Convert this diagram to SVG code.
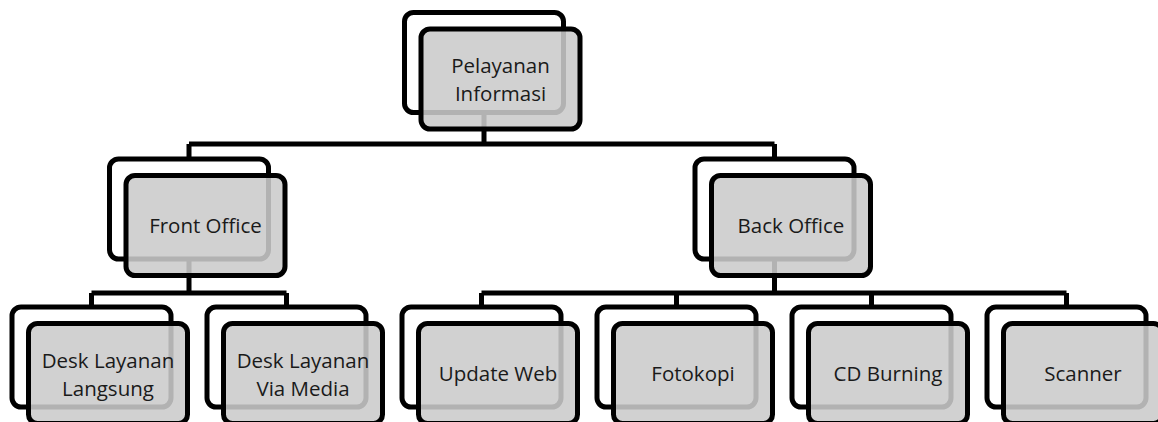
<svg xmlns="http://www.w3.org/2000/svg" width="1158" height="422" viewBox="0 0 1158 422">
  <style>
    .back { fill: #ffffff; stroke: #000000; stroke-width: 5; }
    .front { fill: #cbcbcb; fill-opacity: 0.88; stroke: #000000; stroke-width: 5; }
    .conn { fill: none; stroke: #000000; stroke-width: 5; }
    .lbl { font-family: "Open Sans", "Noto Sans", "Liberation Sans", sans-serif; font-size: 20.5px; text-anchor: middle; fill: #1a1a1a; }
  </style>
  <defs>
    <!-- shared card shapes: a white card behind, a grey card offset in front -->
    <rect id="card-back" class="back" x="0" y="0" width="159" height="100" rx="9" ry="9"/>
    <rect id="card-front" class="front" x="16.5" y="16.5" width="159" height="100" rx="9" ry="9"/>
  </defs>

  <rect width="1158" height="422" fill="#ffffff"/>

  <!-- connectors (drawn beneath the grey cards) -->
  <g id="connectors" class="conn">
    <!-- root to level 1 -->
    <path d="M484 112.5 V144 M189 144 H774.5 M189 144 V159 M774.5 144 V159"/>
    <!-- Front Office to its children -->
    <path d="M189 259 V293 M91.5 293 H286.5 M91.5 293 V307 M286.5 293 V307"/>
    <!-- Back Office to its children -->
    <path d="M774.5 259 V293 M481.5 293 H1066.5 M481.5 293 V307 M676.5 293 V307 M871.5 293 V307 M1066.5 293 V307"/>
  </g>

  <g id="node-pelayanan-informasi" transform="translate(404.5,12.5)">
    <use href="#card-back"/>
    <use href="#card-front"/>
    <text class="lbl" x="96" y="60.5">Pelayanan</text>
    <text class="lbl" x="96" y="88.5">Informasi</text>
  </g>

  <g id="node-front-office" transform="translate(109.5,159)">
    <use href="#card-back"/>
    <use href="#card-front"/>
    <text class="lbl" x="96" y="74">Front Office</text>
  </g>

  <g id="node-back-office" transform="translate(695,159)">
    <use href="#card-back"/>
    <use href="#card-front"/>
    <text class="lbl" x="96" y="74">Back Office</text>
  </g>

  <g id="node-desk-langsung" transform="translate(12,307)">
    <use href="#card-back"/>
    <use href="#card-front"/>
    <text class="lbl" x="96" y="61">Desk Layanan</text>
    <text class="lbl" x="96" y="89">Langsung</text>
  </g>

  <g id="node-desk-via-media" transform="translate(207,307)">
    <use href="#card-back"/>
    <use href="#card-front"/>
    <text class="lbl" x="96" y="61">Desk Layanan</text>
    <text class="lbl" x="96" y="89">Via Media</text>
  </g>

  <g id="node-update-web" transform="translate(402,307)">
    <use href="#card-back"/>
    <use href="#card-front"/>
    <text class="lbl" x="96" y="74">Update Web</text>
  </g>

  <g id="node-fotokopi" transform="translate(597,307)">
    <use href="#card-back"/>
    <use href="#card-front"/>
    <text class="lbl" x="96" y="74">Fotokopi</text>
  </g>

  <g id="node-cd-burning" transform="translate(792,307)">
    <use href="#card-back"/>
    <use href="#card-front"/>
    <text class="lbl" x="96" y="74">CD Burning</text>
  </g>

  <g id="node-scanner" transform="translate(987,307)">
    <use href="#card-back"/>
    <use href="#card-front"/>
    <text class="lbl" x="96" y="74">Scanner</text>
  </g>
</svg>
